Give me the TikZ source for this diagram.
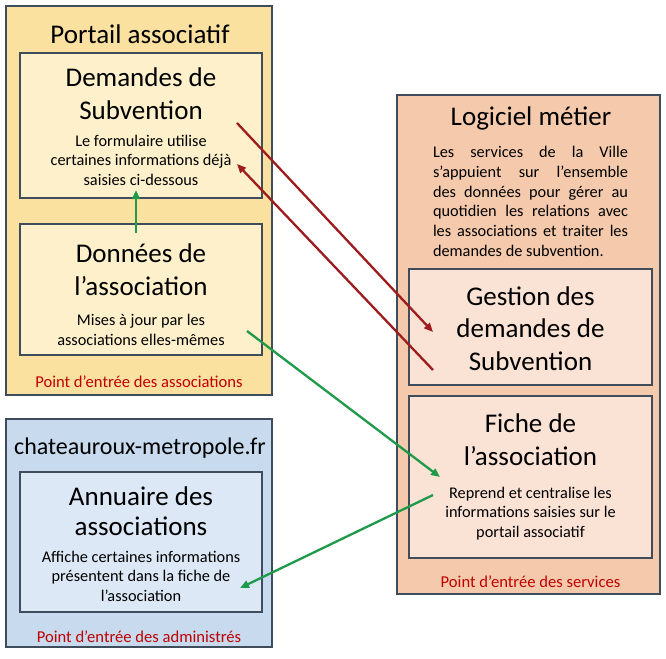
\documentclass[tikz,border=0pt]{standalone}
\usepackage{fontspec}
\setmainfont{Carlito}
\usetikzlibrary{arrows.meta}
\definecolor{bord}{HTML}{3E4C5C}
\definecolor{portO}{HTML}{FBE1A0}
\definecolor{portI}{HTML}{FDF0CA}
\definecolor{bleuO}{HTML}{C7DAEE}
\definecolor{bleuI}{HTML}{DCE8F5}
\definecolor{orO}{HTML}{F5CAAC}
\definecolor{orI}{HTML}{FAE2D5}
\definecolor{rouge}{HTML}{C00000}
\definecolor{flecheR}{HTML}{9E1B1E}
\definecolor{flecheV}{HTML}{1E9A4A}
\begin{document}
\begin{tikzpicture}[x=1pt,y=-1pt,
  boxo/.style={draw=bord, line width=1.8pt, rectangle, inner sep=0pt},
  boxi/.style={draw=bord, line width=1.8pt, rectangle, inner sep=0pt},
  grand/.style={inner sep=0pt, align=center, font=\fontsize{27}{33}\selectfont},
  titre/.style={inner sep=0pt, align=center, font=\fontsize{27}{31}\selectfont},
  petit/.style={inner sep=0pt, align=center, font=\fontsize{16.3}{19.5}\selectfont},
  entree/.style={inner sep=0pt, align=center, text=rouge, font=\fontsize{16.6}{19.5}\selectfont},
  flr/.style={draw=flecheR, line width=2.3pt, -{Triangle[length=9pt,width=7.5pt]}},
  flv/.style={draw=flecheV, line width=2.3pt, -{Triangle[length=9pt,width=7.5pt]}}]
\useasboundingbox (0,0) rectangle (666,658);
\fill[white] (0,0) rectangle (666,658);

% Portail associatif
\node[boxo, fill=portO, minimum width=266pt, minimum height=389pt] (portail) at (139,200.5) {};
\node[boxi, fill=portI, minimum width=242pt, minimum height=145pt] (demandes) at (141,125.5) {};
\node[boxi, fill=portI, minimum width=242pt, minimum height=131pt] (donnees) at (141,289.5) {};
\node[titre] (tportail) at (140,34) {Portail associatif};
\node[grand] (tdemandes) at (141,93.5) {Demandes de\\Subvention};
\node[petit] (pdemandes) at (141,160) {Le formulaire utilise\\certaines informations déjà\\saisies ci-dessous};
\node[grand] (tdonnees) at (141,270) {Données de\\l’association};
\node[petit] (pdonnees) at (141,330) {Mises à jour par les\\associations elles-mêmes};
\node[entree] (eassoc) at (139,382) {Point d’entrée des associations};

% chateauroux-metropole.fr
\node[boxo, fill=bleuO, minimum width=266pt, minimum height=228pt] (site) at (139,533) {};
\node[boxi, fill=bleuI, minimum width=242pt, minimum height=140pt] (annuaire) at (141,542) {};
\node[titre, font=\fontsize{24}{29}\selectfont] (tsite) at (140,448) {chateauroux-metropole.fr};
\node[grand, font=\fontsize{27}{30}\selectfont] (tannuaire) at (141,511.5) {Annuaire des\\associations};
\node[petit] (pannuaire) at (141,576) {Affiche certaines informations\\présentent dans la fiche de\\l’association};
\node[entree] (eadmin) at (139,637) {Point d’entrée des administrés};

% Logiciel metier
\node[boxo, fill=orO, minimum width=263pt, minimum height=499pt] (logiciel) at (528.5,344.5) {};
\node[boxi, fill=orI, minimum width=243pt, minimum height=116pt] (gestion) at (530.5,327) {};
\node[boxi, fill=orI, minimum width=243pt, minimum height=162pt] (fiche) at (530.5,477) {};
\node[titre] (tlogiciel) at (531,118) {Logiciel métier};
\node[inner sep=0pt, text width=195pt, align=justify, font=\fontsize{16.3}{19.7}\selectfont] (plogiciel) at (530.5,201.5)
  {Les services de la Ville\linebreak s’appuient sur l’ensemble\linebreak des données pour gérer au\linebreak quotidien les relations avec\linebreak les associations et traiter les\linebreak demandes de subvention.};
\node[grand, font=\fontsize{27}{32.5}\selectfont] (tgestion) at (530.5,328.5) {Gestion des\\demandes de\\Subvention};
\node[grand] (tfiche) at (530.5,439.5) {Fiche de\\l’association};
\node[petit] (pfiche) at (530.5,513.5) {Reprend et centralise les\\informations saisies sur le\\portail associatif};
\node[entree] (eserv) at (530.5,582) {Point d’entrée des services};

% arrow end points
\coordinate (r1a) at (237,123);
\coordinate (r1b) at (433,332);
\coordinate (r2a) at (433,370);
\coordinate (r2b) at (237,164);
\coordinate (v1a) at (136,233);
\coordinate (v1b) at (136,190);
\coordinate (v2a) at (247,331);
\coordinate (v2b) at (440,477);
\coordinate (v3a) at (433,495);
\coordinate (v3b) at (240,588);

\draw[flr] (r1a) -- (r1b);
\draw[flr] (r2a) -- (r2b);
\draw[flv] (v1a) -- (v1b);
\draw[flv] (v2a) -- (v2b);
\draw[flv] (v3a) -- (v3b);
\end{tikzpicture}
\end{document}
